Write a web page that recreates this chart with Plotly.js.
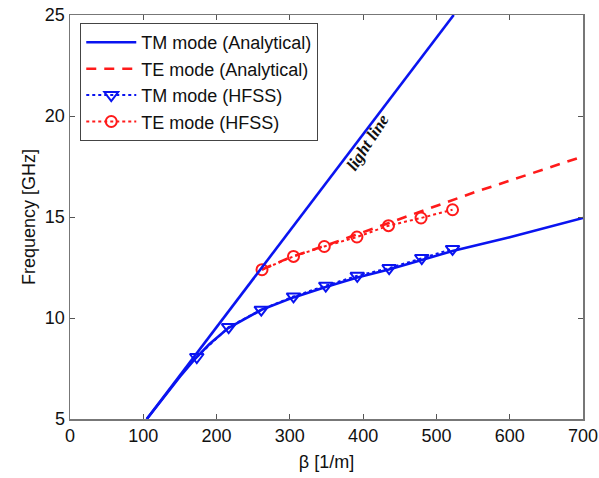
<!DOCTYPE html>
<html>
<head>
<meta charset="utf-8">
<script src="https://cdn.plot.ly/plotly-3.0.1.min.js"></script>
<style>html,body{margin:0;padding:0;background:#fff;}#chart{width:599px;height:478px;}</style>
</head>
<body>
<div id="chart"></div>
<script>
// Light line (f = c*beta/2pi) endpoints
const lightBeta = [104.8, 523.6];
const lightFreq = [5, 25];

// TM mode (Analytical)
const tmBeta = [104.8, 130, 150, 170, 190, 216, 240, 262, 305, 350, 392, 435, 480, 522, 600, 700];
const tmFreq = [5.0, 6.2, 7.1, 7.95, 8.7, 9.5, 10.0, 10.42, 11.02, 11.55, 12.0, 12.4, 12.87, 13.32, 14.0, 14.95];

// TE mode (Analytical)
const teBeta = [262, 300, 350, 400, 450, 500, 550, 600, 650, 700];
const teFreq = [12.4, 13.0, 13.6, 14.25, 14.9, 15.55, 16.2, 16.8, 17.4, 18.0];

// TM mode (HFSS)
const tmHfssBeta = [173, 216.5, 261, 305, 349, 392, 435.5, 480, 522];
const tmHfssFreq = [8.07, 9.55, 10.41, 11.07, 11.6, 12.09, 12.47, 12.97, 13.42];

// TE mode (HFSS)
const teHfssBeta = [262, 305, 347, 391.5, 434.6, 479, 522];
const teHfssFreq = [12.39, 13.05, 13.54, 14.01, 14.57, 14.95, 15.36];

const blue = '#0a14f0';
const red = '#ff1a1a';
const font = 'Liberation Sans, Arial, sans-serif';

const traces = [
  {x: tmBeta, y: tmFreq, mode: 'lines', name: 'TM mode (Analytical)',
   line: {color: blue, width: 2.6}},
  {x: teBeta, y: teFreq, mode: 'lines', name: 'TE mode (Analytical)',
   line: {color: red, width: 2.6, dash: '10px,8px'}},
  {x: tmHfssBeta, y: tmHfssFreq, mode: 'lines+markers', name: 'TM mode (HFSS)',
   line: {color: blue, width: 2, dash: 'dot'},
   marker: {symbol: 'triangle-down-open', size: 12, color: blue, line: {width: 2, color: blue}}},
  {x: teHfssBeta, y: teHfssFreq, mode: 'lines+markers', name: 'TE mode (HFSS)',
   line: {color: red, width: 2, dash: 'dot'},
   marker: {symbol: 'circle-open', size: 11, color: red, line: {width: 2, color: red}}},
  {x: lightBeta, y: lightFreq, mode: 'lines', name: 'light line', showlegend: false,
   line: {color: blue, width: 2.6}}
];

const axisCommon = {
  showgrid: false, zeroline: false, showline: true, linecolor: '#777', linewidth: 1.5,
  mirror: 'ticks', ticks: 'inside', ticklen: 5, tickcolor: '#555', tickwidth: 1,
  tickfont: {family: font, size: 18, color: '#111'}
};

const layout = {
  width: 599, height: 478,
  margin: {l: 69.5, r: 16, t: 14.5, b: 58.7},
  paper_bgcolor: '#fff', plot_bgcolor: '#fff',
  showlegend: true,
  xaxis: Object.assign({}, axisCommon, {
    range: [0, 700], tickvals: [0, 100, 200, 300, 400, 500, 600, 700],
    title: {text: 'β [1/m]', font: {family: font, size: 18, color: '#111'}, standoff: 10}
  }),
  yaxis: Object.assign({}, axisCommon, {
    range: [5, 25], tickvals: [5, 10, 15, 20, 25],
    title: {text: 'Frequency [GHz]', font: {family: font, size: 18, color: '#111'}, standoff: 4}
  }),
  legend: {
    x: 0.02, y: 0.98, xanchor: 'left', yanchor: 'top',
    bgcolor: '#fff', bordercolor: '#444', borderwidth: 1,
    font: {family: font, size: 18, color: '#111'},
    tracegroupgap: 0, itemwidth: 50
  },
  annotations: [{
    x: 406, y: 18.7, xref: 'x', yref: 'y', showarrow: false,
    text: '<b><i>light line</i></b>', textangle: -57,
    font: {family: 'Liberation Serif, Times New Roman, serif', size: 17, color: '#111'}
  }]
};

Plotly.newPlot('chart', traces, layout, {displayModeBar: false, staticPlot: true});
</script>
</body>
</html>
